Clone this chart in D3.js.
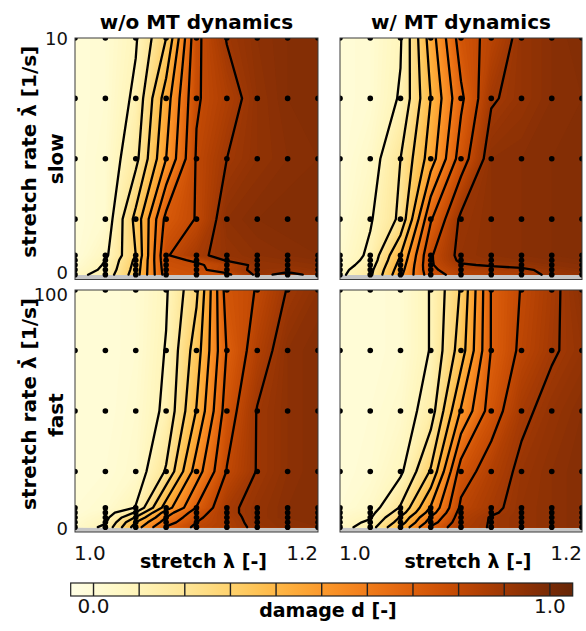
<!DOCTYPE html>
<html><head><meta charset="utf-8">
<script src="https://cdn.jsdelivr.net/npm/d3@7"></script>
<style>
body{margin:0;background:#fff}
text{font-family:"DejaVu Sans",Verdana,sans-serif}
.b{font-weight:bold}
</style>
</head><body>
<svg id="c" width="586" height="631"></svg>
<script>
// ---------------- data ----------------
const stretchVals = [1.0, 1.025, 1.05, 1.075, 1.1, 1.125, 1.15, 1.175, 1.2];
const rateSlow = [0.2, 0.4, 0.6, 0.8, 1.0, 2.5, 5, 7.5, 10];
const rateFast = [2, 4, 6, 8, 10, 25, 50, 75, 100];
const contourLevels = [0.1, 0.2, 0.3, 0.4, 0.5, 0.6, 0.7, 0.8, 0.9];
const colorbarTicks = [0.0, 1.0];
const titles = ["w/o MT dynamics", "w/ MT dynamics"];
const rowNames = ["slow", "fast"];
const yTicksSlow = [0, 10];
const yTicksFast = [0, 100];
const xTicks = [1.0, 1.2];

// damage d, rows = stretch-rate samples (low -> high), columns = stretch samples
const damageSlowNoMT = [
  [0.07, 0.14, 0.35, 0.75, 0.77, 0.78, 0.92, 0.88, 0.92],
  [0.04, 0.12, 0.34, 0.76, 0.78, 0.84, 0.93, 0.92, 0.94],
  [0.02, 0.11, 0.33, 0.77, 0.79, 0.83, 0.93, 0.94, 0.95],
  [0.01, 0.10, 0.32, 0.78, 0.81, 0.91, 0.94, 0.95, 0.96],
  [0.00, 0.08, 0.30, 0.79, 0.88, 0.93, 0.95, 0.96, 0.97],
  [0.00, 0.03, 0.33, 0.73, 0.805, 0.95, 0.97, 0.98, 0.98],
  [0.00, 0.03, 0.17, 0.50, 0.81, 0.90, 0.94, 0.96, 0.97],
  [0.00, 0.02, 0.12, 0.45, 0.79, 0.86, 0.94, 0.97, 0.98],
  [0.00, 0.02, 0.09, 0.30, 0.78, 0.905, 0.95, 0.97, 0.98]
];
const damageSlowMT = [
  [0.08, 0.18, 0.48, 0.76, 0.84, 0.85, 0.86, 0.92, 0.93],
  [0.07, 0.17, 0.46, 0.78, 0.86, 0.87, 0.88, 0.93, 0.95],
  [0.05, 0.15, 0.44, 0.79, 0.89, 0.91, 0.93, 0.95, 0.96],
  [0.04, 0.13, 0.42, 0.79, 0.92, 0.94, 0.95, 0.96, 0.97],
  [0.03, 0.12, 0.40, 0.79, 0.93, 0.95, 0.96, 0.97, 0.97],
  [0.01, 0.09, 0.22, 0.69, 0.92, 0.95, 0.96, 0.97, 0.97],
  [0.00, 0.05, 0.20, 0.45, 0.75, 0.95, 0.96, 0.97, 0.97],
  [0.00, 0.02, 0.11, 0.40, 0.68, 0.89, 0.93, 0.96, 0.97],
  [0.00, 0.02, 0.09, 0.45, 0.75, 0.83, 0.93, 0.96, 0.98]
];
const damageFastNoMT = [
  [0.04, 0.12, 0.45, 0.71, 0.82, 0.86, 0.92, 0.95, 0.96],
  [0.03, 0.09, 0.40, 0.65, 0.80, 0.86, 0.93, 0.95, 0.97],
  [0.02, 0.07, 0.31, 0.60, 0.78, 0.87, 0.93, 0.96, 0.97],
  [0.01, 0.05, 0.21, 0.55, 0.75, 0.88, 0.93, 0.96, 0.97],
  [0.01, 0.03, 0.105, 0.45, 0.705, 0.88, 0.93, 0.96, 0.97],
  [0.00, 0.01, 0.04, 0.21, 0.55, 0.805, 0.905, 0.95, 0.97],
  [0.00, 0.00, 0.03, 0.12, 0.405, 0.75, 0.905, 0.95, 0.97],
  [0.00, 0.00, 0.02, 0.105, 0.35, 0.705, 0.85, 0.95, 0.97],
  [0.00, 0.00, 0.02, 0.09, 0.28, 0.75, 0.805, 0.905, 0.95]
];
const damageFastMT = [
  [0.06, 0.15, 0.41, 0.71, 0.87, 0.905, 0.93, 0.95, 0.97],
  [0.05, 0.12, 0.35, 0.65, 0.86, 0.905, 0.93, 0.95, 0.97],
  [0.04, 0.09, 0.31, 0.61, 0.85, 0.905, 0.93, 0.95, 0.97],
  [0.03, 0.07, 0.25, 0.55, 0.84, 0.89, 0.93, 0.95, 0.97],
  [0.01, 0.05, 0.21, 0.51, 0.82, 0.88, 0.93, 0.95, 0.97],
  [0.00, 0.02, 0.08, 0.31, 0.75, 0.85, 0.92, 0.95, 0.97],
  [0.00, 0.01, 0.04, 0.15, 0.51, 0.75, 0.88, 0.93, 0.96],
  [0.00, 0.00, 0.02, 0.105, 0.35, 0.705, 0.82, 0.89, 0.93],
  [0.00, 0.00, 0.02, 0.105, 0.31, 0.705, 0.805, 0.88, 0.95]
];

// ---------------- drawing ----------------
const svg = d3.select("#c");
svg.append("rect").attr("width", 586).attr("height", 631).attr("fill", "#fff");
const defs = svg.append("defs");
const color = d3.scaleSequential(d3.interpolateYlOrBr).domain([-0.05, 1.05]);

const panels = [
  {data: damageSlowNoMT, rates: rateSlow, yTicks: yTicksSlow, x0: 75, x1: 318, y0: 38, y1: 279.5, col: 0, row: 0},
  {data: damageSlowMT, rates: rateSlow, yTicks: yTicksSlow, x0: 340, x1: 582, y0: 38, y1: 279.5, col: 1, row: 0},
  {data: damageFastNoMT, rates: rateFast, yTicks: yTicksFast, x0: 75, x1: 318, y0: 290, y1: 532, col: 0, row: 1},
  {data: damageFastMT, rates: rateFast, yTicks: yTicksFast, x0: 340, x1: 582, y0: 290, y1: 532, col: 1, row: 1}
];

const clamp = (v, a, b) => Math.max(a, Math.min(b, v));
function lerpArr(arr, s) {
  const i = Math.min(Math.floor(s), arr.length - 2);
  const f = s - i;
  return arr[i] + f * (arr[i + 1] - arr[i]);
}

panels.forEach((p, k) => {
  const nx = stretchVals.length, ny = p.rates.length;
  const xScale = d3.scaleLinear().domain([stretchVals[0], stretchVals[nx - 1]]).range([p.x0, p.x1]);
  const yScale = d3.scaleLinear().domain([0, p.yTicks[1]]).range([p.y1, p.y0]);
  const flat = p.data.flat();
  const toSample = pt => [clamp(pt[0] - 0.5, 0, nx - 1), clamp(pt[1] - 0.5, 0, ny - 1)];
  const toPx = s => [xScale(lerpArr(stretchVals, s[0])), yScale(lerpArr(p.rates, s[1]))];

  defs.append("clipPath").attr("id", "clip" + k)
    .append("rect").attr("x", p.x0).attr("y", p.y0).attr("width", p.x1 - p.x0).attr("height", p.y1 - p.y0);
  const g = svg.append("g").attr("clip-path", `url(#clip${k})`);

  g.append("rect").attr("x", p.x0).attr("y", p.y0).attr("width", p.x1 - p.x0).attr("height", p.y1 - p.y0)
    .attr("fill", "#c6c6c6");
  const dTop = yScale(p.rates[ny - 1]), dBot = yScale(p.rates[0]);
  g.append("rect").attr("x", xScale(stretchVals[0])).attr("y", dTop)
    .attr("width", xScale(stretchVals[nx - 1]) - xScale(stretchVals[0])).attr("height", dBot - dTop)
    .attr("fill", color(0));

  const fineTh = d3.range(1, 101).map(i => i / 100);
  const fills = d3.contours().size([nx, ny]).thresholds(fineTh)(flat);
  const ringPath = ring => "M" + ring.map(pt => toPx(toSample(pt)).map(v => v.toFixed(2)).join(",")).join("L") + "Z";
  g.selectAll("path.fill").data(fills).join("path")
    .attr("class", "fill")
    .attr("d", c => c.coordinates.map(poly => poly.map(ringPath).join("")).join(""))
    .attr("fill", c => color(c.value))
    .attr("fill-rule", "evenodd")
    .attr("stroke", "none");

  const onB = (a, b) => (a[0] === 0 && b[0] === 0) || (a[0] === nx - 1 && b[0] === nx - 1) ||
                        (a[1] === 0 && b[1] === 0) || (a[1] === ny - 1 && b[1] === ny - 1);
  const lines = [];
  d3.contours().size([nx, ny]).thresholds(contourLevels)(flat).forEach(c => {
    c.coordinates.forEach(poly => poly.forEach(ring => {
      const pts = ring.map(toSample);
      const n = pts.length - 1;
      let start = -1;
      for (let i = 0; i < n; i++) if (onB(pts[i], pts[i + 1])) { start = i; break; }
      if (start < 0) { lines.push(pts.map(toPx)); return; }
      let cur = null;
      for (let k2 = 1; k2 <= n; k2++) {
        const i = (start + k2) % n;
        const a = pts[i], b = pts[i + 1];
        if (onB(a, b)) { if (cur) { lines.push(cur); cur = null; } }
        else { if (!cur) cur = [toPx(a)]; cur.push(toPx(b)); }
      }
      if (cur) lines.push(cur);
    }));
  });
  g.selectAll("path.iso").data(lines).join("path")
    .attr("class", "iso")
    .attr("d", d3.line())
    .attr("fill", "none").attr("stroke", "#000").attr("stroke-width", 2.3)
    .attr("stroke-linejoin", "round").attr("stroke-linecap", "round");

  const pts = [];
  p.rates.forEach(r => stretchVals.forEach(s => pts.push([s, r])));
  g.selectAll("circle").data(pts).join("circle")
    .attr("cx", d => xScale(d[0])).attr("cy", d => yScale(d[1])).attr("r", 2.8).attr("fill", "#000");

  svg.append("rect").attr("x", p.x0).attr("y", p.y0).attr("width", p.x1 - p.x0).attr("height", p.y1 - p.y0)
    .attr("fill", "none").attr("stroke", "#3a3a3a").attr("stroke-width", 1);

  if (p.row === 0) {
    svg.append("text").attr("class", "b").attr("x", (p.x0 + p.x1) / 2).attr("y", 28.5)
      .attr("text-anchor", "middle").attr("font-size", 20).text(titles[p.col]);
  }
  if (p.col === 0) {
    p.yTicks.forEach((t, i) => {
      const base = p.row === 0 ? (i === 0 ? yScale(t) - 0.5 : yScale(t) + 7)
                               : (i === 0 ? yScale(t) + 3 : yScale(t) + 10.5);
      svg.append("text").attr("x", 68).attr("y", base)
        .attr("text-anchor", "end").attr("font-size", 18).attr("fill", "#111").text(t);
    });
    const cy = (p.y0 + p.y1) / 2;
    svg.append("text").attr("class", "b").attr("font-size", 20).attr("text-anchor", "middle")
      .attr("transform", `translate(36,${cy - 7}) rotate(-90)`).text("stretch rate \u03BB\u0307 [1/s]");
    svg.append("text").attr("class", "b").attr("font-size", 20).attr("text-anchor", "middle")
      .attr("transform", `translate(62.5,${cy + (p.row === 0 ? 0 : 4)}) rotate(-90)`).text(rowNames[p.row]);
  }
  if (p.row === 1) {
    svg.append("text").attr("x", xScale(xTicks[0]) - 1).attr("y", 560).attr("font-size", 20)
      .attr("fill", "#111").attr("text-anchor", "start").text(xTicks[0].toFixed(1));
    svg.append("text").attr("x", xScale(xTicks[1])).attr("y", 560).attr("font-size", 20)
      .attr("fill", "#111").attr("text-anchor", "end").text(xTicks[1].toFixed(1));
    svg.append("text").attr("class", "b").attr("x", (p.x0 + p.x1) / 2 + 7).attr("y", 568)
      .attr("text-anchor", "middle").attr("font-size", 19).text("stretch \u03BB [-]");
  }
});

// ---------------- colorbar ----------------
const cb = d3.scaleLinear().domain([-0.05, 1.05]).range([70.7, 572.7]);
const cbY = 583, cbH = 13;
const grad = defs.append("linearGradient").attr("id", "cbg").attr("x1", 0).attr("x2", 1).attr("y1", 0).attr("y2", 0);
d3.range(0, 41).forEach(i => {
  const v = -0.05 + 1.1 * i / 40;
  grad.append("stop").attr("offset", i / 40).attr("stop-color", color(v));
});
svg.append("rect").attr("x", cb.range()[0]).attr("y", cbY).attr("width", cb.range()[1] - cb.range()[0])
  .attr("height", cbH).attr("fill", "url(#cbg)");
svg.selectAll("line.cbl").data(d3.range(0, 11).map(i => i / 10)).join("line").attr("class", "cbl")
  .attr("x1", d => cb(d)).attr("x2", d => cb(d)).attr("y1", cbY).attr("y2", cbY + cbH)
  .attr("stroke", "#222").attr("stroke-width", 1.4);
svg.append("rect").attr("x", cb.range()[0]).attr("y", cbY).attr("width", cb.range()[1] - cb.range()[0])
  .attr("height", cbH).attr("fill", "none").attr("stroke", "#222").attr("stroke-width", 1.2);
colorbarTicks.forEach(t => {
  svg.append("text").attr("x", cb(t)).attr("y", 613).attr("text-anchor", "middle")
    .attr("font-size", 20).attr("fill", "#111").text(t.toFixed(1));
});
svg.append("text").attr("class", "b").attr("x", 328).attr("y", 617).attr("text-anchor", "middle")
  .attr("font-size", 19).text("damage d [-]");
</script>
</body></html>
